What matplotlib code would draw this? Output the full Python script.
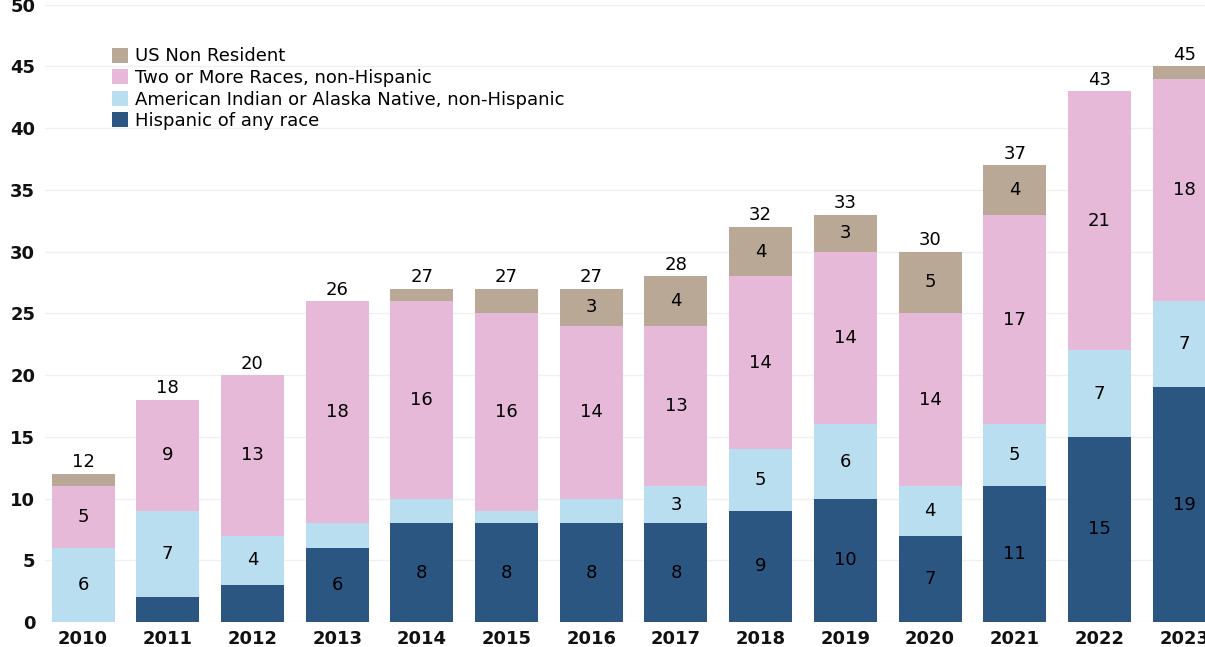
import matplotlib
matplotlib.use("Agg")
import matplotlib.pyplot as plt
import numpy as np

years = ["2010", "2011", "2012", "2013", "2014", "2015", "2016",
         "2017", "2018", "2019", "2020", "2021", "2022", "2023"]
hispanic = [0, 2, 3, 6, 8, 8, 8, 8, 9, 10, 7, 11, 15, 19]
am_indian = [6, 7, 4, 2, 2, 1, 2, 3, 5, 6, 4, 5, 7, 7]
two_more = [5, 9, 13, 18, 16, 16, 14, 13, 14, 14, 14, 17, 21, 18]
non_res = [1, 0, 0, 0, 1, 2, 3, 4, 4, 3, 5, 4, 0, 1]
totals = [12, 18, 20, 26, 27, 27, 27, 28, 32, 33, 30, 37, 43, 45]

series_names = ["Hispanic of any race",
                "American Indian or Alaska Native, non-Hispanic",
                "Two or More Races, non-Hispanic",
                "US Non Resident"]
series_vals = [hispanic, am_indian, two_more, non_res]
colors = ["#2B5682", "#B8DEF0", "#E6B9D8", "#B9A896"]
# segments whose value is not printed in the source
hidden_labels = {(0, 2)}  # (series index, year index)

fig = plt.figure(figsize=(12.05, 6.47), dpi=100)
W, H = 1205, 647
ax = fig.add_axes([45 / W, (H - 622) / H, 1160 / W, 621 / H])

x = np.arange(len(years))
bw = 0.744
bottom = np.zeros(len(years))
handles = []
for si, (name, vals, col) in enumerate(zip(series_names, series_vals, colors)):
    v = np.array(vals, dtype=float)
    b = ax.bar(x, v, bw, bottom=bottom, color=col, label=name, zorder=2)
    handles.append(b)
    for i, val in enumerate(vals):
        if val >= 3 and (si, i) not in hidden_labels:
            ax.text(x[i], bottom[i] + val / 2, str(val), ha="center", va="center",
                    fontsize=13, color="black", zorder=3)
    bottom += v

for i, t in enumerate(totals):
    ax.text(x[i], t + 0.2, str(t), ha="center", va="bottom", fontsize=13,
            color="black", zorder=3)

ax.set_xlim(-0.449, 13.246)
ax.set_ylim(0, 50.3)
ax.set_yticks(range(0, 51, 5))
ax.set_xticks(x)
ax.set_xticklabels(years, fontsize=13, fontweight="bold", color="#111111")
for lab in ax.get_yticklabels():
    lab.set_fontsize(13)
    lab.set_fontweight("bold")
    lab.set_color("#111111")
ax.tick_params(axis="both", length=0, pad=6)
ax.tick_params(axis="y", pad=7)
ax.grid(axis="y", color="#F0F0F0", linewidth=1, zorder=0)
for s in ax.spines.values():
    s.set_visible(False)

leg = ax.legend(handles[::-1], series_names[::-1], loc="upper left",
                bbox_to_anchor=(0.0515, 0.937), frameon=False, fontsize=13,
                handlelength=0.9, handleheight=0.9, handletextpad=0.4,
                labelspacing=0.2, borderaxespad=0)

fig.savefig("out.png", dpi=100)
